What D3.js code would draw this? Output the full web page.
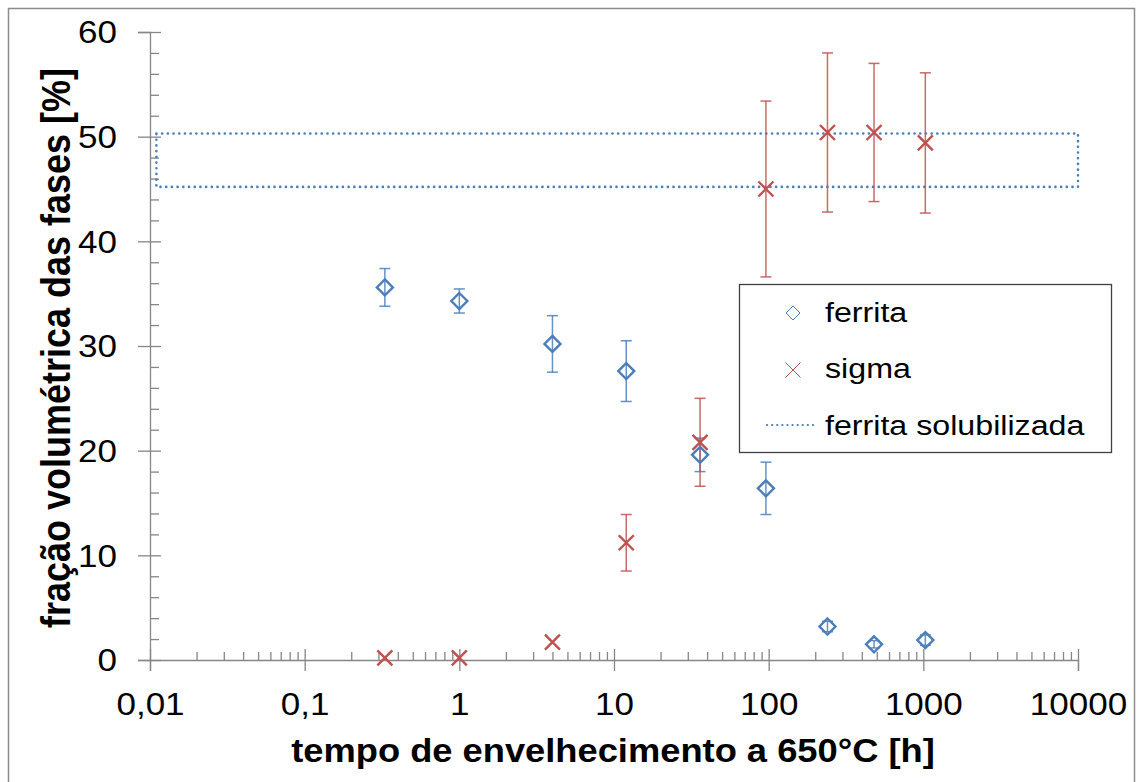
<!DOCTYPE html>
<html lang="pt">
<head>
<meta charset="UTF-8">
<title>Fração volumétrica das fases</title>
<script src="https://cdn.jsdelivr.net/npm/d3@7"></script>
<style>
    body { margin: 0; background: #fff; }
    svg { display: block; font-family: "Liberation Sans", Arial, sans-serif; }
    .axis path, .axis line { stroke: #868686; stroke-width: 1.3; }
    .tick text { fill: #000; }
</style>
</head>
<body>
<div id="chart"></div>
<script>
// ---- data ----
const timeH      = [0.33, 1, 4, 12, 36, 96, 240, 480, 1030];
const ferrita    = [35.6, 34.3, 30.2, 27.6, 19.6, 16.4, 3.2, 1.5, 1.9];
const ferritaErr = [1.8, 1.15, 2.7, 2.9, 1.6, 2.5, 0.5, 0.35, 0.5];
const sigma      = [0.2, 0.2, 1.7, 11.2, 20.8, 45.0, 50.4, 50.4, 49.4];
const sigmaErr   = [0, 0, 0, 2.7, 4.2, 8.4, 7.6, 6.6, 6.7];

// "ferrita solubilizada" band drawn as a closed dotted line
const solubX = [0.011, 10000, 10000, 0.011, 0.011];
const solubY = [50.3, 50.3, 45.2, 45.2, 50.3];

const xTicks = [0.01, 0.1, 1, 10, 100, 1000, 10000];
const xTickLabels = ["0,01", "0,1", "1", "10", "100", "1000", "10000"];
const yTicks = [0, 10, 20, 30, 40, 50, 60];
const legendLabels = ["ferrita", "sigma", "ferrita solubilizada"];

const blue = "#4a7ebb", red = "#c0504d";
const W = 1137, H = 782;
const stretch = 1.13;   // text in the picture is a bit wider than normal

const svg = d3.select("#chart").append("svg")
    .attr("width", W).attr("height", H);

// outer frame (left, top, right)
svg.append("path")
    .attr("d", "M8.5,782 V8.5 H1134.5 V782")
    .attr("fill", "none").attr("stroke", "#8c8c8c").attr("stroke-width", 1.5);

const x = d3.scaleLog().domain([0.01, 10000]).range([150, 1078]);
const y = d3.scaleLinear().domain([0, 60]).range([660, 32]);

// ---- y axis ----
const yAxis = svg.append("g").attr("class", "axis")
    .attr("transform", "translate(150,0)")
    .call(d3.axisLeft(y).tickValues(yTicks).tickSize(12).tickFormat(d => d));
yAxis.selectAll(".tick text")
    .attr("x", 0).attr("dy", "0.35em")
    .attr("transform", `translate(-33,0) scale(${stretch},1)`)
    .style("font-size", "31px");
// inner part of major ticks
svg.append("g").attr("class", "axis")
    .attr("transform", "translate(150,0)")
    .call(d3.axisRight(y).tickValues(yTicks).tickSize(11).tickFormat(""))
    .select(".domain").remove();
// minor y ticks
svg.append("g").attr("class", "axis")
    .attr("transform", "translate(150,0)")
    .call(d3.axisRight(y).tickValues(d3.range(2, 60, 2).filter(v => v % 10)).tickSize(9).tickFormat(""))
    .select(".domain").remove();

// ---- x axis ----
const xAxis = svg.append("g").attr("class", "axis")
    .attr("transform", "translate(0,660)")
    .call(d3.axisBottom(x).tickValues(xTicks).tickSize(11)
        .tickFormat((d, i) => xTickLabels[i]));
xAxis.selectAll(".tick text")
    .attr("y", 0).attr("dy", 0)
    .attr("transform", `translate(0,55) scale(${stretch},1)`)
    .style("font-size", "31px");
xAxis.selectAll(".tick line").attr("y1", -11);
// minor x ticks 2..9 per decade
const minorX = [];
xTicks.slice(0, -1).forEach(d => { for (let k = 2; k <= 9; k++) minorX.push(d * k); });
svg.append("g").attr("class", "axis")
    .attr("transform", "translate(0,660)")
    .call(d3.axisTop(x).tickValues(minorX).tickSize(8).tickFormat(""))
    .select(".domain").remove();

// ---- axis titles ----
svg.append("text")
    .attr("transform", `translate(613,762) scale(1.1,1)`)
    .attr("text-anchor", "middle")
    .style("font-size", "33px").style("font-weight", "bold")
    .text("tempo de envelhecimento a 650°C [h]");
svg.append("text")
    .attr("transform", `translate(70,348) scale(1.14,1) rotate(-90)`)
    .attr("text-anchor", "middle")
    .style("font-size", "36px").style("font-weight", "bold")
    .text("fração volumétrica das fases [%]");

// ---- ferrita solubilizada band ----
const band = d3.line().x(d => x(d[0])).y(d => y(d[1]));
svg.append("path")
    .attr("d", band(d3.zip(solubX, solubY)))
    .attr("fill", "none").attr("stroke", blue).attr("stroke-width", 2.6)
    .attr("stroke-dasharray", "0.1,5.6").attr("stroke-linecap", "round")
    .attr("stroke-linejoin", "round");

// ---- error bars ----
function errorBars(vals, errs, color) {
    const g = svg.append("g").attr("stroke", color).attr("stroke-width", 1.5)
        .attr("stroke-opacity", 0.85);
    timeH.forEach((t, i) => {
        if (!errs[i]) return;
        const cx = x(t), top = y(vals[i] + errs[i]), bot = y(vals[i] - errs[i]);
        g.append("line").attr("x1", cx).attr("x2", cx).attr("y1", top).attr("y2", bot);
        g.append("line").attr("x1", cx - 5.5).attr("x2", cx + 5.5).attr("y1", top).attr("y2", top);
        g.append("line").attr("x1", cx - 5.5).attr("x2", cx + 5.5).attr("y1", bot).attr("y2", bot);
    });
}
errorBars(ferrita, ferritaErr, blue);
errorBars(sigma, sigmaErr, red);

// ---- markers ----
const diamond = s => `M0,${-s}L${s},0L0,${s}L${-s},0Z`;
const cross = s => `M${-s},${-s}L${s},${s}M${-s},${s}L${s},${-s}`;

svg.append("g").selectAll("path")
    .data(d3.zip(timeH, ferrita)).join("path")
    .attr("transform", d => `translate(${x(d[0])},${y(d[1])})`)
    .attr("d", diamond(8))
    .attr("fill", "none").attr("stroke", blue).attr("stroke-width", 2.4);

svg.append("g").selectAll("path")
    .data(d3.zip(timeH, sigma)).join("path")
    .attr("transform", d => `translate(${x(d[0])},${y(d[1])})`)
    .attr("d", cross(7.5))
    .attr("fill", "none").attr("stroke", red).attr("stroke-width", 2.4);

// ---- legend ----
const lg = svg.append("g");
lg.append("rect")
    .attr("x", 739.5).attr("y", 284.5).attr("width", 372).attr("height", 168)
    .attr("fill", "#fff").attr("stroke", "#404040").attr("stroke-width", 1.3);
lg.append("path").attr("transform", "translate(793,313)").attr("d", diamond(7))
    .attr("fill", "none").attr("stroke", blue).attr("stroke-width", 1);
lg.append("path").attr("transform", "translate(793,370)").attr("d", cross(7.5))
    .attr("fill", "none").attr("stroke", red).attr("stroke-width", 1);
lg.append("line").attr("x1", 767).attr("x2", 816).attr("y1", 425).attr("y2", 425)
    .attr("stroke", blue).attr("stroke-width", 2.2)
    .attr("stroke-dasharray", "0.1,5").attr("stroke-linecap", "round");
[321.7, 378.3, 435].forEach((by, i) => {
    lg.append("text")
        .attr("transform", `translate(825,${by}) scale(1.15,1)`)
        .style("font-size", "28px")
        .text(legendLabels[i]);
});
</script>
</body>
</html>
